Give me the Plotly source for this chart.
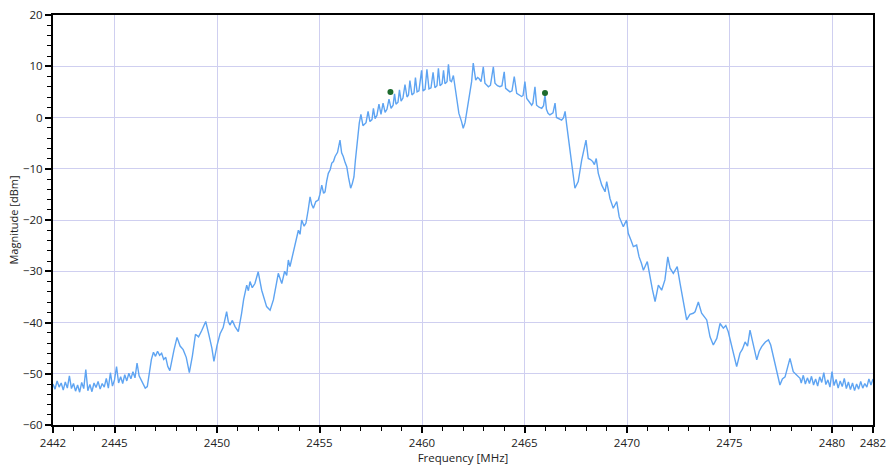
import plotly.graph_objects as go

# Frequency (MHz) and magnitude (dBm)
freq_mhz = [
    2442.0, 2442.1, 2442.2, 2442.3, 2442.4, 2442.5, 2442.6, 2442.7, 2442.8, 2442.9,
    2443.0, 2443.1, 2443.2, 2443.3, 2443.4, 2443.5, 2443.6, 2443.7, 2443.8, 2443.9,
    2444.0, 2444.1, 2444.2, 2444.3, 2444.4, 2444.5, 2444.6, 2444.7, 2444.8, 2444.9,
    2445.0, 2445.1, 2445.2, 2445.3, 2445.4, 2445.5, 2445.6, 2445.7, 2445.8, 2445.9,
    2446.0, 2446.1, 2446.2, 2446.3, 2446.4, 2446.5, 2446.6, 2446.7, 2446.8, 2446.9,
    2447.0, 2447.1, 2447.2, 2447.3, 2447.4, 2447.5, 2447.6, 2447.7, 2447.8, 2447.9,
    2448.05, 2448.2, 2448.35, 2448.5, 2448.65, 2448.8, 2448.95, 2449.1, 2449.25, 2449.45,
    2449.6, 2449.75, 2449.85, 2450.0, 2450.15, 2450.3, 2450.47, 2450.55, 2450.63, 2450.75,
    2450.88, 2451.04, 2451.2, 2451.3, 2451.45, 2451.53, 2451.61, 2451.72, 2451.85, 2452.01,
    2452.18, 2452.3, 2452.42, 2452.59, 2452.75, 2452.88, 2452.99, 2453.16, 2453.3, 2453.4,
    2453.48, 2453.56, 2453.7, 2453.8, 2453.88, 2453.97, 2454.05, 2454.13, 2454.25, 2454.34,
    2454.45, 2454.54, 2454.62, 2454.7, 2454.82, 2454.94, 2455.02, 2455.11, 2455.2, 2455.27,
    2455.35, 2455.43, 2455.52, 2455.6, 2455.68, 2455.76, 2455.88, 2456.0, 2456.08, 2456.16,
    2456.25, 2456.33, 2456.42, 2456.52, 2456.6, 2456.68, 2456.75, 2456.81, 2456.88, 2456.94,
    2457.02, 2457.12, 2457.27, 2457.37, 2457.46, 2457.56, 2457.63, 2457.71, 2457.8, 2457.9,
    2458.0, 2458.1, 2458.2, 2458.29, 2458.39, 2458.49, 2458.59, 2458.66, 2458.73, 2458.83,
    2458.9, 2458.98, 2459.07, 2459.17, 2459.27, 2459.34, 2459.41, 2459.51, 2459.61, 2459.68,
    2459.76, 2459.85, 2459.98, 2460.05, 2460.15, 2460.24, 2460.34, 2460.44, 2460.54, 2460.63,
    2460.73, 2460.8, 2460.88, 2460.98, 2461.05, 2461.12, 2461.22, 2461.29, 2461.37, 2461.44,
    2461.53, 2461.61, 2461.69, 2461.8, 2461.93, 2462.01, 2462.1, 2462.18, 2462.29, 2462.42,
    2462.5, 2462.62, 2462.71, 2462.78, 2462.88, 2462.99, 2463.07, 2463.16, 2463.24, 2463.34,
    2463.48, 2463.56, 2463.68, 2463.8, 2463.9, 2464.01, 2464.08, 2464.2, 2464.29, 2464.39,
    2464.5, 2464.62, 2464.73, 2464.86, 2464.93, 2465.02, 2465.11, 2465.22, 2465.35, 2465.41,
    2465.51, 2465.59, 2465.71, 2465.84, 2465.93, 2466.0, 2466.07, 2466.15, 2466.24, 2466.39,
    2466.49, 2466.56, 2466.68, 2466.81, 2466.9, 2466.98, 2467.06, 2467.14, 2467.3, 2467.46,
    2467.62, 2467.79, 2467.9, 2468.0, 2468.11, 2468.22, 2468.33, 2468.41, 2468.5, 2468.6,
    2468.77, 2468.93, 2469.01, 2469.17, 2469.33, 2469.5, 2469.62, 2469.82, 2469.98, 2470.06,
    2470.2, 2470.31, 2470.47, 2470.59, 2470.7, 2470.8, 2470.99, 2471.12, 2471.24, 2471.37,
    2471.53, 2471.69, 2471.85, 2471.99, 2472.1, 2472.26, 2472.45, 2472.59, 2472.75, 2472.91,
    2473.07, 2473.23, 2473.32, 2473.4, 2473.48, 2473.64, 2473.77, 2473.89, 2474.05, 2474.21,
    2474.38, 2474.54, 2474.7, 2474.82, 2474.94, 2475.11, 2475.23, 2475.35, 2475.51, 2475.63,
    2475.76, 2475.88, 2476.0, 2476.16, 2476.33, 2476.45, 2476.57, 2476.75, 2476.9, 2477.01,
    2477.22, 2477.34, 2477.46, 2477.58, 2477.71, 2477.83, 2477.95, 2478.11, 2478.27, 2478.44,
    2478.5, 2478.6, 2478.7, 2478.8, 2478.9, 2479.0, 2479.1, 2479.2, 2479.3, 2479.4,
    2479.5, 2479.6, 2479.7, 2479.8, 2479.9, 2480.0, 2480.1, 2480.2, 2480.3, 2480.4,
    2480.5, 2480.6, 2480.7, 2480.8, 2480.9, 2481.0, 2481.1, 2481.2, 2481.3, 2481.4,
    2481.5, 2481.6, 2481.7, 2481.8, 2481.9, 2482.0,
]

magnitude_dbm = [
    -52.0, -53.0, -51.4, -52.6, -51.8, -53.2, -51.6, -52.8, -50.4, -52.9,
    -51.9, -53.4, -52.2, -53.6, -51.7, -52.9, -49.2, -53.3, -52.1, -53.5,
    -51.8, -52.7, -51.5, -53.0, -51.9, -52.6, -50.9, -52.8, -49.8, -52.4,
    -51.2, -48.6, -51.8, -50.6, -51.9, -50.2, -51.4, -49.9, -51.0, -49.6,
    -50.8, -47.9, -50.4, -51.3, -52.0, -52.8, -52.5, -50.0, -47.2, -45.8,
    -46.6, -45.6, -46.4, -46.0, -47.2, -46.8, -48.6, -49.4, -47.0, -45.4,
    -42.9, -44.6, -45.3, -46.8, -49.8, -46.5, -42.3, -42.8, -41.6, -39.8,
    -42.3, -45.0, -47.6, -44.5, -42.2, -41.0, -37.9, -39.8, -40.5, -39.6,
    -40.8, -41.8, -38.2, -35.5, -32.7, -33.8, -32.0, -33.2, -32.4, -30.1,
    -33.7, -35.4, -36.9, -37.6, -35.6, -32.8, -30.4, -32.4, -30.0, -30.8,
    -27.8, -29.1, -26.5, -25.0, -23.6, -22.0, -22.8, -20.0, -21.2, -20.6,
    -18.0, -15.5, -17.0, -17.7, -16.4, -16.1, -15.0, -13.2, -14.8, -14.5,
    -12.4, -10.9, -10.2, -8.9, -8.6, -7.6, -6.8, -4.4, -6.9, -7.6,
    -8.8, -9.6, -11.8, -13.8, -12.9, -11.6, -8.4, -5.7, -3.2, -1.1,
    0.6, -1.6, -1.0, 1.2, -0.8, -0.4, 1.8, -0.2, 0.4, 2.6,
    0.6, 2.8, 1.0, 1.6, 3.6, 1.8, 2.4, 4.6, 2.6, 3.0,
    5.4, 3.2, 3.8, 6.4, 4.0, 4.4, 7.2, 4.4, 4.8, 7.8,
    5.0, 5.2, 9.2, 5.2, 5.5, 9.4, 5.6, 5.8, 8.8, 5.8,
    6.2, 9.6, 6.2, 6.6, 9.2, 6.6, 7.0, 10.4, 7.2, 7.0,
    8.2, 6.0, 3.7, 0.8, -0.8, -2.1, -1.0, 0.8, 4.0, 7.0,
    10.6, 7.3, 7.8, 7.6, 7.0, 9.9, 6.7, 6.4, 6.0, 6.3,
    9.9, 6.7, 6.2, 6.0, 6.2, 8.9, 5.7, 5.3, 5.0, 5.2,
    8.0, 4.7, 4.4, 4.1, 4.3, 7.0, 3.7, 3.0, 2.4, 2.8,
    6.0, 2.4, 2.0, 1.8, 2.3, 4.4, 1.6, 0.8, 0.5, 0.9,
    2.8, 0.0, -0.3, -0.5, -0.1, 1.2, -1.5, -4.4, -8.9, -13.8,
    -12.5, -8.3, -6.4, -4.4, -8.0, -8.2, -8.6, -9.2, -8.0, -10.9,
    -13.2, -14.5, -12.5, -15.8, -17.7, -16.4, -19.4, -21.3, -20.0, -22.6,
    -24.0, -25.2, -24.9, -27.2, -28.4, -29.8, -28.1, -31.4, -33.6, -35.9,
    -32.7, -33.7, -31.7, -27.2, -29.4, -30.4, -29.1, -32.4, -35.6, -39.5,
    -38.4, -38.2, -37.9, -36.9, -36.0, -38.2, -38.8, -39.5, -42.8, -44.4,
    -43.1, -40.2, -41.1, -40.6, -41.8, -44.7, -46.4, -48.6, -46.0, -45.2,
    -43.8, -44.6, -41.5, -44.1, -47.3, -45.6, -44.7, -43.8, -43.4, -44.4,
    -48.3, -50.4, -52.2, -51.0, -50.6, -48.8, -47.0, -49.6, -50.2, -50.9,
    -51.8, -50.3, -52.0, -50.8, -51.9, -50.5, -52.2, -51.0, -52.4, -50.6,
    -51.7, -49.8, -52.1, -51.2, -52.6, -49.6, -52.3, -51.1, -52.8, -51.4,
    -52.5, -50.9, -52.9, -51.6, -53.1, -51.8, -53.3, -52.0, -53.0, -51.5,
    -52.8, -51.9, -52.6, -51.0, -52.2, -51.0,
]

marker_freq_mhz = [2458.46, 2466.0]
marker_dbm = [5.0, 4.8]

x_tick_vals = [2442, 2445, 2450, 2455, 2460, 2465, 2470, 2475, 2480, 2482]
x_tick_text = ["2442", "2445", "2450", "2455", "2460", "2465", "2470", "2475", "2480", "2482"]
y_tick_vals = [-60, -50, -40, -30, -20, -10, 0, 10, 20]

FONT = "Open Sans, Noto Sans, DejaVu Sans, sans-serif"

fig = go.Figure()
fig.add_trace(go.Scatter(
    x=freq_mhz, y=magnitude_dbm, mode="lines",
    line=dict(color="#5ea4f2", width=1.4),
    hoverinfo="x+y", showlegend=False,
))
fig.add_trace(go.Scatter(
    x=marker_freq_mhz, y=marker_dbm, mode="markers",
    marker=dict(color="#1e6b2e", size=6, symbol="circle"),
    showlegend=False,
))

axis_common = dict(
    showline=True, linecolor="black", linewidth=2, mirror=True,
    ticks="outside", ticklen=6, tickwidth=1.5, tickcolor="black",
    showgrid=True, gridcolor="#cfcff0", gridwidth=1.3,
    zeroline=False, automargin=False, ticklabeloverflow="allow",
    tickfont=dict(family=FONT, size=11.5, color="#222222"),
)

fig.update_xaxes(
    range=[2442, 2482], tickvals=x_tick_vals, ticktext=x_tick_text,
    minor=dict(tick0=2442, dtick=1, ticks="outside", ticklen=4, tickwidth=1.2,
               tickcolor="black", showgrid=False),
    title=dict(text="Frequency [MHz]", font=dict(family=FONT, size=11.5, color="#222222"), standoff=4),
    **axis_common,
)
fig.update_yaxes(
    range=[-60, 20], tickvals=y_tick_vals,
    minor=dict(tick0=-60, dtick=2, ticks="outside", ticklen=4, tickwidth=1.2,
               tickcolor="black", showgrid=False),
    title=dict(text="Magnitude [dBm]", font=dict(family=FONT, size=11, color="#222222"), standoff=2),
    **axis_common,
)

fig.update_layout(
    width=886, height=470,
    margin=dict(l=53, r=13, t=15, b=45),
    paper_bgcolor="white", plot_bgcolor="white",
    font=dict(family=FONT),
)

fig.write_html(
    "out.html",
    config={"displayModeBar": False},
    post_script="document.body.style.margin='0';document.body.style.overflow='hidden';",
)
